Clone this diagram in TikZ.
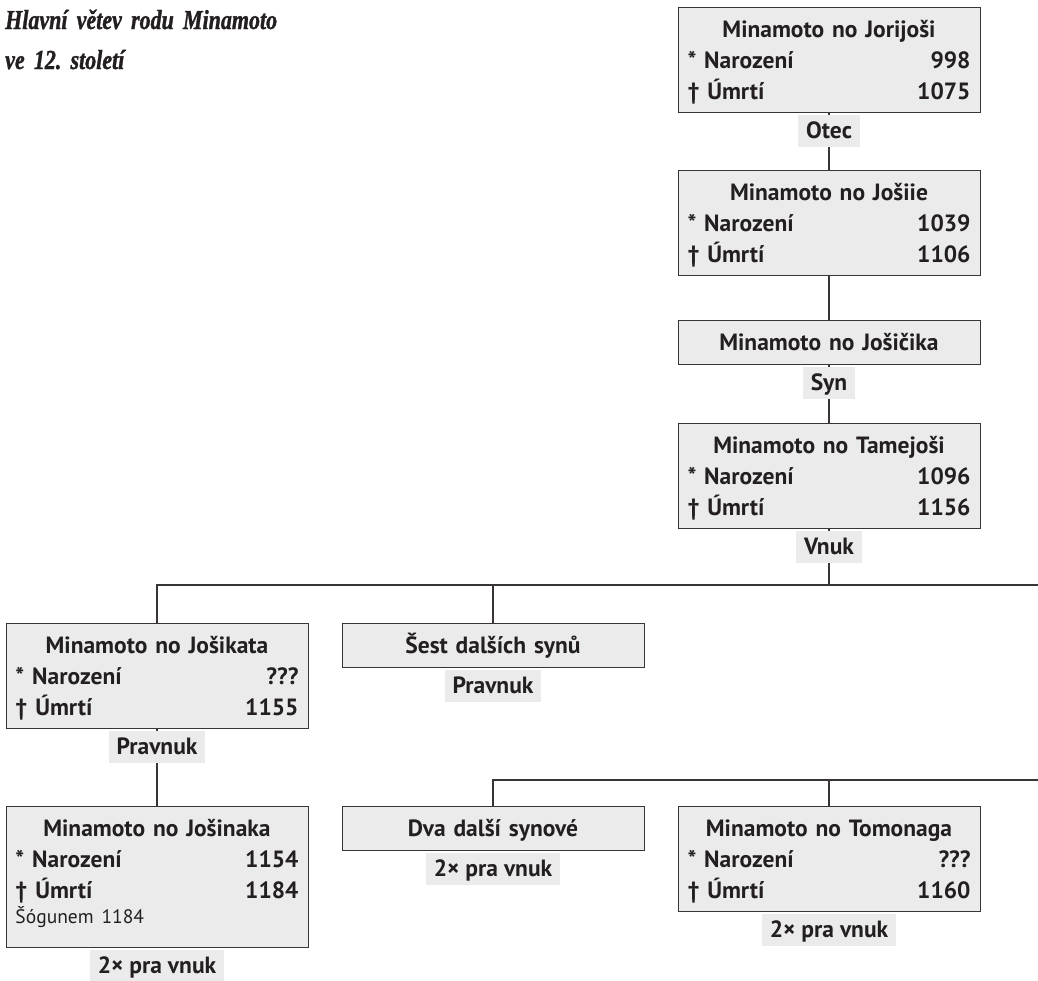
\documentclass[tikz,border=0pt]{standalone}
\usepackage{fontspec}
\setmainfont{PT Sans}
\newfontfamily\titlefont[FakeStretch=0.8,FakeBold=1.2,WordSpace=0.8]{Liberation Serif Bold Italic}
\usetikzlibrary{calc}

\definecolor{boxgray}{RGB}{235,235,236}
\definecolor{inkgray}{RGB}{35,31,32}
\colorlet{linegray}{inkgray!90}
\newcommand{\boxfont}{\fontsize{23.5}{31}\selectfont\bfseries}
\newcommand{\notefont}{\mdseries\fontsize{19.5}{22}\selectfont}
\newcommand{\osoba}[3]{\null\hfill #1\hfill\mbox{}\\{}* Narození\hfill #2\\† Úmrtí\hfill #3}
\tikzstyle{line}=[draw=linegray,line width=1.4pt]
\tikzstyle{person}=[draw=linegray,line width=1pt,fill=boxgray,text=inkgray,anchor=north,text width=283pt,inner xsep=9.5pt,inner ysep=0pt,align=left,text height=30pt,text depth=75pt,font=\boxfont]
\tikzstyle{single}=[person,align=center,text depth=14pt]
\tikzstyle{rel}=[fill=boxgray,text=inkgray,anchor=north,yshift=-1.5pt,inner xsep=8pt,inner ysep=0pt,text height=24pt,text depth=8pt,font=\boxfont]
\tikzstyle{titel}=[anchor=base west,inner sep=0pt,text width=400pt,align=left,text=inkgray,font=\titlefont\fontsize{27.5}{40}\selectfont\frenchspacing]

\begin{document}
\begin{tikzpicture}[x=1pt,y=-1pt]
  \useasboundingbox (0,0) rectangle (1038,980);

  % TITLE
  \node[titel] (titel) at (5,29) {Hlavní větev rodu Minamoto\\ve 12. století};

  % PERSONS
  \node[person] (jorijosi) at (829,7)   {\osoba{Minamoto no Jorijoši}{998}{1075}};
  \node[person] (josiie)   at (829,170) {\osoba{Minamoto no Jošiie}{1039}{1106}};
  \node[single] (josicika) at (829,320) {Minamoto no Jošičika};
  \node[person] (tamejosi) at (829,423) {\osoba{Minamoto no Tamejoši}{1096}{1156}};
  \node[person] (josikata) at (157,623) {\osoba{Minamoto no Jošikata}{???}{1155}};
  \node[single] (sest)     at (493,623) {Šest dalších synů};
  \node[person,text depth=111pt] (josinaka) at (157,806)
    {\osoba{Minamoto no Jošinaka}{1154}{1184}\\[-6pt]{\notefont Šógunem 1184}};
  \node[single] (dva)      at (493,806) {Dva další synové};
  \node[person] (tomonaga) at (829,806) {\osoba{Minamoto no Tomonaga}{???}{1160}};

  % BRANCHES
  \coordinate (edge1) at (1038,585);
  \coordinate (edge2) at (1038,780);
  \draw[line] (jorijosi.south) -- (josiie.north);
  \draw[line] (josiie.south) -- (josicika.north);
  \draw[line] (josicika.south) -- (tamejosi.north);
  \draw[line] (tamejosi.south) -- (tamejosi.south |- edge1);
  \draw[line] (josikata.north) |- (edge1);
  \draw[line] (sest.north) -- (sest.north |- edge1);
  \draw[line] (josikata.south) -- (josinaka.north);
  \draw[line] (dva.north) |- (edge2);
  \draw[line] (tomonaga.north) -- (tomonaga.north |- edge2);

  % RELATIONS
  \node[rel] (otec)     at (jorijosi.south) {Otec};
  \node[rel] (syn)      at (josicika.south) {Syn};
  \node[rel] (vnuk)     at (tamejosi.south) {Vnuk};
  \node[rel] (pravnuk1) at (josikata.south) {Pravnuk};
  \node[rel] (pravnuk2) at (sest.south)     {Pravnuk};
  \node[rel] (pra1)     at (josinaka.south) {2× pra vnuk};
  \node[rel] (pra2)     at (dva.south)      {2× pra vnuk};
  \node[rel] (pra3)     at (tomonaga.south) {2× pra vnuk};
\end{tikzpicture}
\end{document}
